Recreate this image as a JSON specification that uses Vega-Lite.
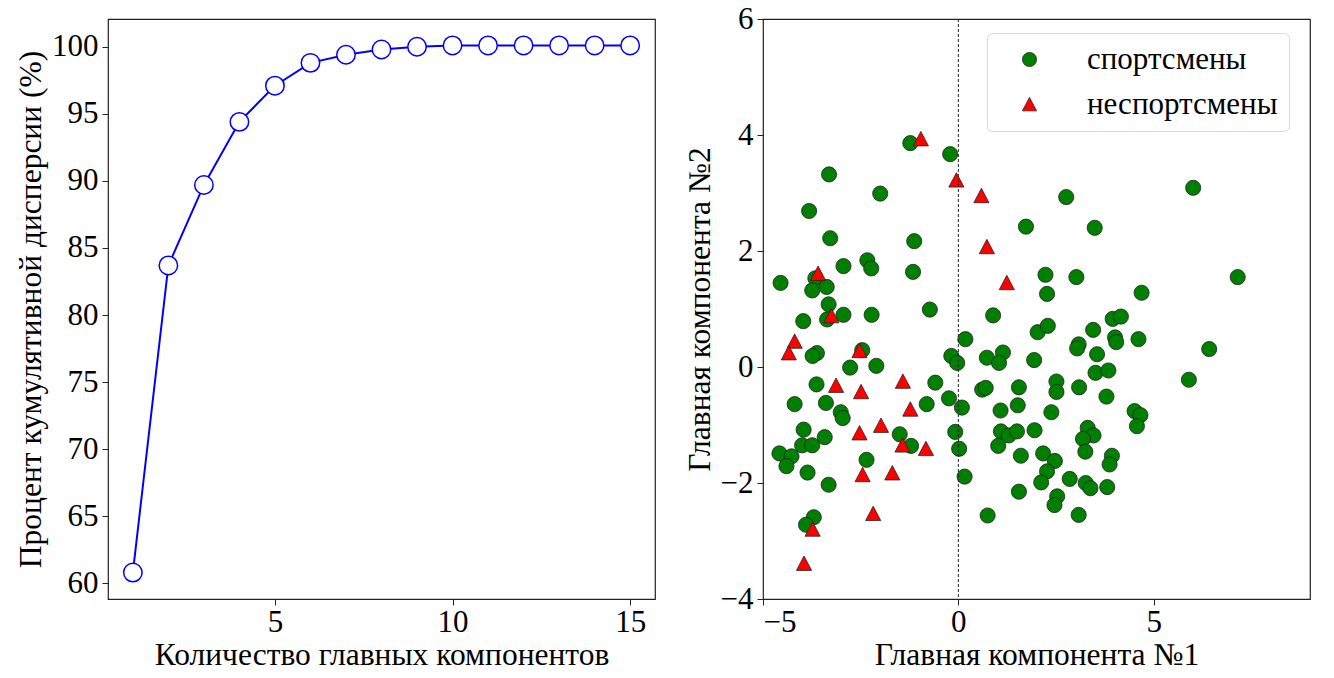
{
  "$schema": "https://vega.github.io/schema/vega-lite/v6.json",
  "padding": {"left": 14, "top": 2, "right": 0, "bottom": 0},
  "background": "white",
  "config": {
    "font": "'Liberation Serif', 'DejaVu Serif', serif",
    "view": {"stroke": "#222", "strokeWidth": 1.2},
    "style": {"guide-title": {"font": "'Liberation Serif', 'DejaVu Serif', serif"}},
    "axis": {
      "grid": false,
      "domain": false,
      "tickColor": "#222",
      "tickSize": 6,
      "labelFontSize": 31,
      "labelColor": "black",
      "labelFont": "'Liberation Serif', 'DejaVu Serif', serif",
      "titleFontSize": 31.5,
      "titleFontWeight": "normal",
      "titleColor": "black",
      "titleFont": "'Liberation Serif', 'DejaVu Serif', serif",
      "labelPadding": 4
    },
    "axisX": {"labelPadding": 2, "titlePadding": 2},
    "legend": {"labelFont": "'Liberation Serif', 'DejaVu Serif', serif"}
  },
  "datasets": {
    "variance": [
      {"n": 1, "pct": 60.8},
      {"n": 2, "pct": 83.7},
      {"n": 3, "pct": 89.7},
      {"n": 4, "pct": 94.4},
      {"n": 5, "pct": 97.1},
      {"n": 6, "pct": 98.8},
      {"n": 7, "pct": 99.4},
      {"n": 8, "pct": 99.8},
      {"n": 9, "pct": 100.0},
      {"n": 10, "pct": 100.1},
      {"n": 11, "pct": 100.1},
      {"n": 12, "pct": 100.1},
      {"n": 13, "pct": 100.1},
      {"n": 14, "pct": 100.1},
      {"n": 15, "pct": 100.1}
    ],
    "pca": [
      {"pc1": -1.23, "pc2": 3.86, "group": "спортсмены"},
      {"pc1": -0.21, "pc2": 3.67, "group": "спортсмены"},
      {"pc1": -3.31, "pc2": 3.32, "group": "спортсмены"},
      {"pc1": -2.0, "pc2": 2.99, "group": "спортсмены"},
      {"pc1": -3.82, "pc2": 2.69, "group": "спортсмены"},
      {"pc1": 1.73, "pc2": 2.42, "group": "спортсмены"},
      {"pc1": -3.28, "pc2": 2.22, "group": "спортсмены"},
      {"pc1": -1.13, "pc2": 2.17, "group": "спортсмены"},
      {"pc1": -2.94, "pc2": 1.74, "group": "спортсмены"},
      {"pc1": -2.33, "pc2": 1.84, "group": "спортсмены"},
      {"pc1": -2.23, "pc2": 1.7, "group": "спортсмены"},
      {"pc1": -1.16, "pc2": 1.64, "group": "спортсмены"},
      {"pc1": -3.66, "pc2": 1.53, "group": "спортсмены"},
      {"pc1": -4.55, "pc2": 1.45, "group": "спортсмены"},
      {"pc1": -3.74, "pc2": 1.32, "group": "спортсмены"},
      {"pc1": -3.37, "pc2": 1.38, "group": "спортсмены"},
      {"pc1": -3.32, "pc2": 1.08, "group": "спортсмены"},
      {"pc1": -2.94, "pc2": 0.9, "group": "спортсмены"},
      {"pc1": -3.36, "pc2": 0.82, "group": "спортсмены"},
      {"pc1": -3.97, "pc2": 0.79, "group": "спортсмены"},
      {"pc1": -2.22, "pc2": 0.9, "group": "спортсмены"},
      {"pc1": -0.73, "pc2": 0.99, "group": "спортсмены"},
      {"pc1": 0.89, "pc2": 0.89, "group": "спортсмены"},
      {"pc1": 2.03, "pc2": 0.6, "group": "спортсмены"},
      {"pc1": 0.18, "pc2": 0.48, "group": "спортсмены"},
      {"pc1": -3.62, "pc2": 0.24, "group": "спортсмены"},
      {"pc1": -3.73, "pc2": 0.19, "group": "спортсмены"},
      {"pc1": -2.46, "pc2": 0.29, "group": "спортсмены"},
      {"pc1": -2.77, "pc2": -0.01, "group": "спортсмены"},
      {"pc1": -2.1, "pc2": 0.02, "group": "спортсмены"},
      {"pc1": -0.18, "pc2": 0.19, "group": "спортсмены"},
      {"pc1": -0.03, "pc2": 0.07, "group": "спортсмены"},
      {"pc1": 0.73, "pc2": 0.16, "group": "спортсмены"},
      {"pc1": 1.14, "pc2": 0.25, "group": "спортсмены"},
      {"pc1": 1.04, "pc2": 0.07, "group": "спортсмены"},
      {"pc1": 1.94, "pc2": 0.12, "group": "спортсмены"},
      {"pc1": -3.63, "pc2": -0.3, "group": "спортсмены"},
      {"pc1": -0.59, "pc2": -0.27, "group": "спортсмены"},
      {"pc1": -0.24, "pc2": -0.54, "group": "спортсмены"},
      {"pc1": 0.09, "pc2": -0.7, "group": "спортсмены"},
      {"pc1": 0.61, "pc2": -0.39, "group": "спортсмены"},
      {"pc1": 0.7, "pc2": -0.36, "group": "спортсмены"},
      {"pc1": 1.55, "pc2": -0.35, "group": "спортсмены"},
      {"pc1": -4.19, "pc2": -0.64, "group": "спортсмены"},
      {"pc1": -3.39, "pc2": -0.62, "group": "спортсмены"},
      {"pc1": -3.01, "pc2": -0.78, "group": "спортсмены"},
      {"pc1": -2.96, "pc2": -0.88, "group": "спортсмены"},
      {"pc1": -0.81, "pc2": -0.64, "group": "спортсмены"},
      {"pc1": 1.08, "pc2": -0.75, "group": "спортсмены"},
      {"pc1": 1.52, "pc2": -0.66, "group": "спортсмены"},
      {"pc1": -3.96, "pc2": -1.08, "group": "спортсмены"},
      {"pc1": -3.42, "pc2": -1.21, "group": "спортсмены"},
      {"pc1": -4.0, "pc2": -1.35, "group": "спортсмены"},
      {"pc1": -3.74, "pc2": -1.35, "group": "спортсмены"},
      {"pc1": -4.58, "pc2": -1.49, "group": "спортсмены"},
      {"pc1": -4.27, "pc2": -1.54, "group": "спортсмены"},
      {"pc1": -4.4, "pc2": -1.71, "group": "спортсмены"},
      {"pc1": -3.86, "pc2": -1.82, "group": "спортсмены"},
      {"pc1": -3.32, "pc2": -2.03, "group": "спортсмены"},
      {"pc1": -1.5, "pc2": -1.16, "group": "спортсмены"},
      {"pc1": -1.21, "pc2": -1.36, "group": "спортсмены"},
      {"pc1": -0.08, "pc2": -1.12, "group": "спортсмены"},
      {"pc1": 0.02, "pc2": -1.41, "group": "спортсмены"},
      {"pc1": 0.16, "pc2": -1.89, "group": "спортсмены"},
      {"pc1": 1.09, "pc2": -1.11, "group": "спортсмены"},
      {"pc1": 1.29, "pc2": -1.18, "group": "спортсмены"},
      {"pc1": 1.5, "pc2": -1.11, "group": "спортсмены"},
      {"pc1": 1.02, "pc2": -1.36, "group": "спортсмены"},
      {"pc1": 1.6, "pc2": -1.53, "group": "спортсмены"},
      {"pc1": 1.55, "pc2": -2.15, "group": "спортсмены"},
      {"pc1": -2.35, "pc2": -1.6, "group": "спортсмены"},
      {"pc1": 0.75, "pc2": -2.56, "group": "спортсмены"},
      {"pc1": -3.7, "pc2": -2.59, "group": "спортсмены"},
      {"pc1": -3.9, "pc2": -2.72, "group": "спортсмены"},
      {"pc1": 6.01, "pc2": 3.09, "group": "спортсмены"},
      {"pc1": 2.76, "pc2": 2.93, "group": "спортсмены"},
      {"pc1": 3.49, "pc2": 2.4, "group": "спортсмены"},
      {"pc1": 2.23, "pc2": 1.59, "group": "спортсмены"},
      {"pc1": 3.02, "pc2": 1.55, "group": "спортсмены"},
      {"pc1": 7.15, "pc2": 1.55, "group": "спортсмены"},
      {"pc1": 2.27, "pc2": 1.26, "group": "спортсмены"},
      {"pc1": 4.69, "pc2": 1.28, "group": "спортсмены"},
      {"pc1": 2.29, "pc2": 0.71, "group": "спортсмены"},
      {"pc1": 3.95, "pc2": 0.83, "group": "спортсмены"},
      {"pc1": 4.16, "pc2": 0.87, "group": "спортсмены"},
      {"pc1": 3.45, "pc2": 0.64, "group": "спортсмены"},
      {"pc1": 3.08, "pc2": 0.39, "group": "спортсмены"},
      {"pc1": 3.04, "pc2": 0.32, "group": "спортсмены"},
      {"pc1": 4.01, "pc2": 0.51, "group": "спортсмены"},
      {"pc1": 4.04, "pc2": 0.43, "group": "спортсмены"},
      {"pc1": 4.61, "pc2": 0.48, "group": "спортсмены"},
      {"pc1": 3.55, "pc2": 0.22, "group": "спортсмены"},
      {"pc1": 6.42, "pc2": 0.31, "group": "спортсмены"},
      {"pc1": 3.51, "pc2": -0.1, "group": "спортсмены"},
      {"pc1": 3.84, "pc2": -0.06, "group": "спортсмены"},
      {"pc1": 2.51, "pc2": -0.25, "group": "спортсмены"},
      {"pc1": 2.51, "pc2": -0.43, "group": "спортсмены"},
      {"pc1": 3.09, "pc2": -0.35, "group": "спортсмены"},
      {"pc1": 3.79, "pc2": -0.51, "group": "спортсмены"},
      {"pc1": 5.9, "pc2": -0.22, "group": "спортсмены"},
      {"pc1": 2.38, "pc2": -0.78, "group": "спортсмены"},
      {"pc1": 4.51, "pc2": -0.76, "group": "спортсмены"},
      {"pc1": 4.66, "pc2": -0.83, "group": "спортсмены"},
      {"pc1": 4.57, "pc2": -1.02, "group": "спортсмены"},
      {"pc1": 1.95, "pc2": -1.09, "group": "спортсмены"},
      {"pc1": 3.31, "pc2": -1.05, "group": "спортсмены"},
      {"pc1": 3.46, "pc2": -1.18, "group": "спортсмены"},
      {"pc1": 3.19, "pc2": -1.24, "group": "спортсмены"},
      {"pc1": 3.25, "pc2": -1.46, "group": "спортсмены"},
      {"pc1": 2.17, "pc2": -1.49, "group": "спортсмены"},
      {"pc1": 2.47, "pc2": -1.62, "group": "спортсмены"},
      {"pc1": 3.93, "pc2": -1.53, "group": "спортсмены"},
      {"pc1": 3.87, "pc2": -1.68, "group": "спортсмены"},
      {"pc1": 2.27, "pc2": -1.8, "group": "спортсмены"},
      {"pc1": 2.12, "pc2": -1.99, "group": "спортсмены"},
      {"pc1": 2.85, "pc2": -1.93, "group": "спортсмены"},
      {"pc1": 3.26, "pc2": -2.0, "group": "спортсмены"},
      {"pc1": 3.38, "pc2": -2.09, "group": "спортсмены"},
      {"pc1": 3.81, "pc2": -2.07, "group": "спортсмены"},
      {"pc1": 2.53, "pc2": -2.23, "group": "спортсмены"},
      {"pc1": 2.46, "pc2": -2.38, "group": "спортсмены"},
      {"pc1": 3.08, "pc2": -2.55, "group": "спортсмены"},
      {"pc1": -0.96, "pc2": 3.93, "group": "неспортсмены"},
      {"pc1": -0.05, "pc2": 3.22, "group": "неспортсмены"},
      {"pc1": 0.59, "pc2": 2.95, "group": "неспортсмены"},
      {"pc1": 0.73, "pc2": 2.07, "group": "неспортсмены"},
      {"pc1": -3.59, "pc2": 1.61, "group": "неспортсмены"},
      {"pc1": 1.24, "pc2": 1.45, "group": "неспортсмены"},
      {"pc1": -3.25, "pc2": 0.88, "group": "неспортсмены"},
      {"pc1": -4.19, "pc2": 0.44, "group": "неспортсмены"},
      {"pc1": -4.34, "pc2": 0.24, "group": "неспортсмены"},
      {"pc1": -2.53, "pc2": 0.28, "group": "неспортсмены"},
      {"pc1": -3.13, "pc2": -0.32, "group": "неспортсмены"},
      {"pc1": -2.49, "pc2": -0.43, "group": "неспортсмены"},
      {"pc1": -1.42, "pc2": -0.25, "group": "неспортсмены"},
      {"pc1": -1.23, "pc2": -0.73, "group": "неспортсмены"},
      {"pc1": -2.53, "pc2": -1.14, "group": "неспортсмены"},
      {"pc1": -1.98, "pc2": -1.01, "group": "неспортсмены"},
      {"pc1": -1.43, "pc2": -1.35, "group": "неспортсмены"},
      {"pc1": -0.83, "pc2": -1.41, "group": "неспортсмены"},
      {"pc1": -2.45, "pc2": -1.86, "group": "неспортсмены"},
      {"pc1": -1.69, "pc2": -1.83, "group": "неспортсмены"},
      {"pc1": -3.73, "pc2": -2.8, "group": "неспортсмены"},
      {"pc1": -2.18, "pc2": -2.53, "group": "неспортсмены"},
      {"pc1": -3.95, "pc2": -3.39, "group": "неспортсмены"}
    ]
  },
  "hconcat": [
    {
      "width": 547,
      "height": 580,
      "data": {"name": "variance"},
      "layer": [
        {
          "mark": {"type": "line", "color": "#0000ff", "strokeWidth": 2},
          "encoding": {
            "x": {
              "field": "n",
              "type": "quantitative",
              "scale": {"domain": [0.3, 15.7], "nice": false, "zero": false},
              "axis": {
                "values": [5, 10, 15],
                "title": "Количество главных компонентов",
                "titleFont": "'Liberation Serif', 'DejaVu Serif', serif"
              }
            },
            "y": {
              "field": "pct",
              "type": "quantitative",
              "scale": {"domain": [58.83, 102.07], "nice": false, "zero": false},
              "axis": {
                "values": [60, 65, 70, 75, 80, 85, 90, 95, 100],
                "title": "Процент кумулятивной дисперсии (%)",
                "titleFont": "'Liberation Serif', 'DejaVu Serif', serif"
              }
            }
          }
        },
        {
          "mark": {
            "type": "point",
            "filled": true,
            "fill": "white",
            "stroke": "#0000ff",
            "strokeWidth": 1.5,
            "size": 340,
            "opacity": 1
          },
          "encoding": {
            "x": {"field": "n", "type": "quantitative"},
            "y": {"field": "pct", "type": "quantitative"}
          }
        }
      ]
    },
    {
      "width": 547,
      "height": 580,
      "layer": [
        {
          "data": {"name": "pca"},
          "mark": {
            "type": "point",
            "filled": true,
            "stroke": "#222",
            "strokeWidth": 0.8,
            "opacity": 1,
            "size": 230
          },
          "encoding": {
            "x": {
              "field": "pc1",
              "type": "quantitative",
              "scale": {"domain": [-5, 9], "nice": false, "zero": false},
              "axis": {
                "values": [-5, 0, 5],
                "title": "Главная компонента №1",
                "titleFont": "'Liberation Serif', 'DejaVu Serif', serif"
              }
            },
            "y": {
              "field": "pc2",
              "type": "quantitative",
              "scale": {"domain": [-4, 6], "nice": false, "zero": false},
              "axis": {
                "values": [-4, -2, 0, 2, 4, 6],
                "title": "Главная компонента №2",
                "titleFont": "'Liberation Serif', 'DejaVu Serif', serif"
              }
            },
            "color": {
              "field": "group",
              "type": "nominal",
              "scale": {"domain": ["спортсмены", "неспортсмены"], "range": ["#008000", "#ff0000"]},
              "legend": {
                "title": null,
                "orient": "none",
                "legendX": 879,
                "legendY": 14,
                "fillColor": "white",
                "strokeColor": "#d9d9d9",
                "cornerRadius": 5,
                "padding": 11,
                "labelFontSize": 31,
                "labelColor": "black",
                "labelOffset": 42,
                "labelLimit": 0,
                "symbolSize": 200,
                "symbolStrokeColor": "#222",
                "symbolStrokeWidth": 0.8,
                "rowPadding": 13,
                "symbolOffset": 16
              }
            },
            "shape": {
              "field": "group",
              "type": "nominal",
              "scale": {"domain": ["спортсмены", "неспортсмены"], "range": ["circle", "M0,-1L1,0.9L-1,0.9Z"]}
            }
          }
        },
        {
          "data": {"values": [{"x0": 0}]},
          "mark": {"type": "rule", "color": "#222", "strokeWidth": 1, "strokeDash": [3, 2]},
          "encoding": {"x": {"field": "x0", "type": "quantitative"}}
        }
      ]
    }
  ],
  "spacing": 27
}
